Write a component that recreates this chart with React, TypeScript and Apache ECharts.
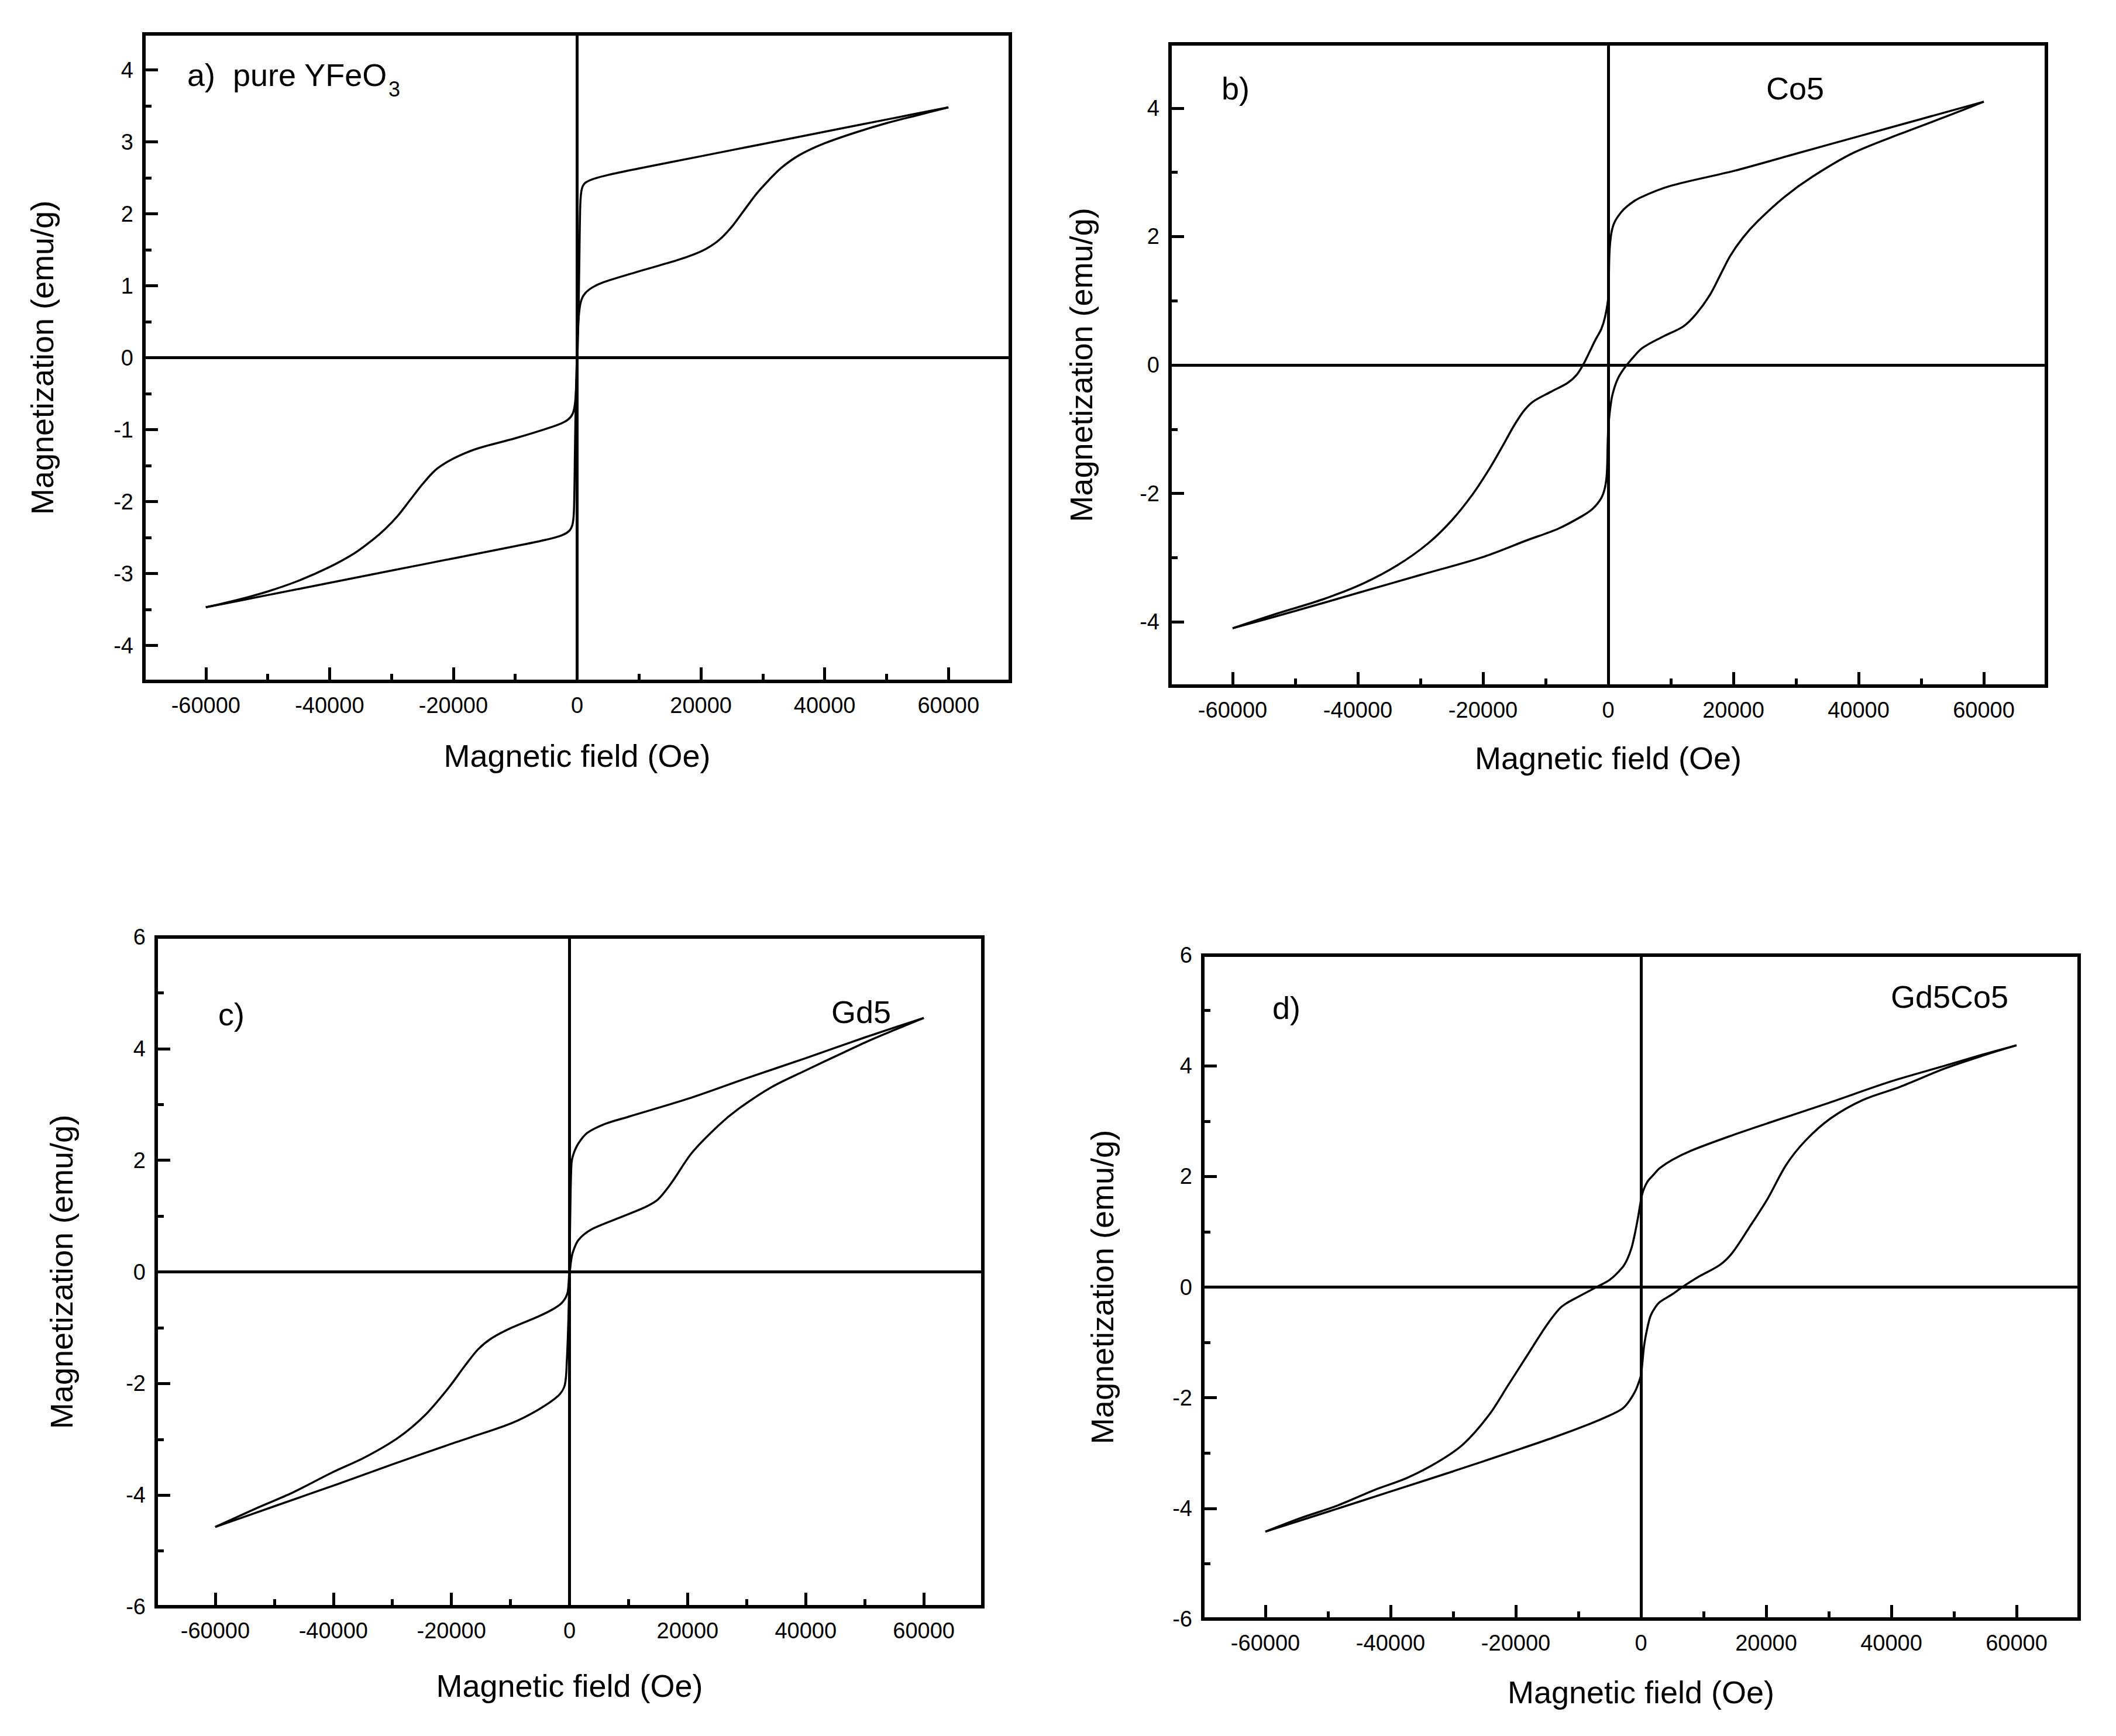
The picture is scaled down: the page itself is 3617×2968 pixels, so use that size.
import React, { useEffect, useRef } from "react";
import * as echarts from "echarts";

// ---------- data (H in Oe, M in emu/g) ----------
const aDown: number[][] = [[60000,3.48],[50000,3.31],[40000,3.14],[30000,2.97],[20000,2.80],[10000,2.63],[5000,2.54],[2500,2.48],[1200,2.42],[700,2.32],[500,2.1],[350,1.3],[200,0.5],[0,-0.1],[-200,-0.5],[-500,-0.72],[-1000,-0.82],[-2000,-0.89],[-4000,-0.96],[-10000,-1.12],[-16000,-1.26],[-19000,-1.36],[-21000,-1.45],[-23000,-1.57],[-25000,-1.76],[-27000,-1.98],[-29000,-2.2],[-31000,-2.38],[-33000,-2.53],[-36000,-2.72],[-40000,-2.91],[-45000,-3.1],[-50000,-3.25],[-55000,-3.37],[-60000,-3.47]];
const aUp: number[][] = [[-60000,-3.47],[-50000,-3.30],[-40000,-3.13],[-30000,-2.96],[-20000,-2.79],[-10000,-2.62],[-5000,-2.53],[-2500,-2.47],[-1200,-2.40],[-700,-2.3],[-500,-2.1],[-350,-1.3],[-200,-0.5],[0,0.1],[200,0.5],[500,0.74],[1000,0.86],[2000,0.95],[4000,1.04],[10000,1.2],[16000,1.35],[19000,1.44],[21000,1.52],[23000,1.64],[25000,1.82],[27000,2.05],[29000,2.28],[31000,2.47],[33000,2.64],[36000,2.82],[40000,2.98],[45000,3.13],[50000,3.26],[55000,3.37],[60000,3.48]];

const bDown: number[][] = [[60000,4.1],[50000,3.83],[40000,3.56],[30000,3.29],[20000,3.02],[10000,2.79],[5000,2.6],[3000,2.47],[2000,2.37],[1000,2.22],[500,2.05],[200,1.75],[0,1.05],[-500,0.75],[-1100,0.56],[-2000,0.4],[-3000,0.2],[-3800,0.04],[-5000,-0.15],[-6500,-0.28],[-9200,-0.42],[-12000,-0.57],[-13600,-0.73],[-15200,-0.97],[-16800,-1.25],[-19000,-1.62],[-21700,-2.02],[-25000,-2.42],[-28800,-2.78],[-33700,-3.12],[-39100,-3.4],[-45600,-3.65],[-53200,-3.88],[-60000,-4.1]];
const bUp: number[][] = [[-60000,-4.1],[-50000,-3.83],[-40000,-3.55],[-30000,-3.27],[-20000,-2.99],[-13000,-2.73],[-8000,-2.55],[-4300,-2.36],[-2500,-2.24],[-1100,-2.07],[-500,-1.9],[-200,-1.66],[0,-1.0],[500,-0.55],[1000,-0.35],[1600,-0.2],[2500,-0.06],[3300,0.04],[5400,0.26],[8700,0.44],[12000,0.6],[14100,0.8],[16300,1.1],[18000,1.42],[19500,1.7],[21500,1.98],[23900,2.24],[28200,2.62],[32600,2.93],[39100,3.3],[46700,3.6],[54300,3.88],[60000,4.1]];

const cDown: number[][] = [[60000,4.55],[50000,4.2],[40000,3.83],[30000,3.47],[20000,3.1],[10000,2.78],[6000,2.65],[3000,2.49],[1500,2.3],[700,2.12],[340,1.95],[150,1.2],[0,0.2],[-150,-0.2],[-400,-0.4],[-1350,-0.56],[-3000,-0.68],[-5300,-0.8],[-9800,-1.0],[-13200,-1.19],[-15500,-1.39],[-17700,-1.68],[-20500,-2.08],[-24500,-2.57],[-29000,-2.97],[-34600,-3.32],[-40300,-3.6],[-47000,-3.96],[-52700,-4.22],[-60000,-4.57]];
const cUp: number[][] = [[-60000,-4.57],[-50000,-4.2],[-39200,-3.8],[-30000,-3.45],[-20000,-3.08],[-16600,-2.96],[-9800,-2.71],[-5300,-2.47],[-1900,-2.22],[-800,-2.03],[-450,-1.59],[-200,-0.9],[0,-0.1],[200,0.15],[560,0.35],[1500,0.57],[3700,0.76],[8200,0.96],[12800,1.16],[15000,1.3],[17300,1.6],[20700,2.13],[25200,2.62],[28600,2.92],[34200,3.31],[39800,3.6],[46600,3.94],[51100,4.16],[60000,4.55]];

const dDown: number[][] = [[60000,4.37],[54500,4.2],[48500,4.0],[40000,3.72],[30000,3.33],[20200,2.96],[14000,2.72],[8100,2.47],[5000,2.3],[3000,2.15],[2000,2.03],[1000,1.9],[200,1.68],[-500,1.24],[-1000,0.95],[-1500,0.71],[-2200,0.5],[-3000,0.35],[-5000,0.13],[-7100,0.0],[-10100,-0.18],[-12000,-0.3],[-13100,-0.4],[-15200,-0.71],[-18200,-1.24],[-21200,-1.77],[-24200,-2.3],[-28300,-2.83],[-32300,-3.15],[-37400,-3.45],[-42400,-3.66],[-48500,-3.95],[-54500,-4.18],[-60000,-4.42]];
const dUp: number[][] = [[-60000,-4.42],[-50000,-4.06],[-40400,-3.71],[-30000,-3.33],[-20200,-2.96],[-14000,-2.72],[-8100,-2.47],[-5000,-2.32],[-3000,-2.2],[-2000,-2.08],[-1000,-1.9],[-500,-1.77],[0,-1.59],[500,-1.06],[1000,-0.75],[1500,-0.53],[2200,-0.38],[3000,-0.27],[5000,-0.13],[6600,0.0],[9100,0.18],[12600,0.4],[14600,0.62],[17200,1.06],[20200,1.59],[23200,2.21],[26300,2.65],[30300,3.05],[35400,3.38],[41400,3.62],[48500,3.95],[54500,4.18],[60000,4.37]];

// tick values
const xMajor = [-60000, -40000, -20000, 0, 20000, 40000, 60000];
const xMinor = [-50000, -30000, -10000, 10000, 30000, 50000];
const yMajorA = [-4, -3, -2, -1, 0, 1, 2, 3, 4];
const yMinorA = [-3.5, -2.5, -1.5, -0.5, 0.5, 1.5, 2.5, 3.5];
const yMajorB = [-4, -2, 0, 2, 4];
const yMinorB = [-3, -1, 1, 3];
const yMajorCD = [-6, -4, -2, 0, 2, 4, 6];
const yMinorCD = [-5, -3, -1, 1, 3, 5];

const xTitle = "Magnetic field (Oe)";
const yTitle = "Magnetization (emu/g)";

const FONT = "'Liberation Sans', Arial, Helvetica, sans-serif";

type Panel = {
  grid: { left: number; top: number; width: number; height: number };
  yMin: number; yMax: number; yMajor: number[]; yMinor: number[]; yInterval: number;
  down: number[][]; up: number[][];
  xNameGap: number; yNameGap: number;
};

const panels: Panel[] = [
  { grid: { left: 246, top: 58, width: 1481, height: 1107 }, yMin: -4.5, yMax: 4.5, yMajor: yMajorA, yMinor: yMinorA, yInterval: 0.5, down: aDown, up: aUp, xNameGap: 100, yNameGap: 147 },
  { grid: { left: 2000, top: 75, width: 1498, height: 1098 }, yMin: -5, yMax: 5, yMajor: yMajorB, yMinor: yMinorB, yInterval: 1, down: bDown, up: bUp, xNameGap: 96, yNameGap: 125 },
  { grid: { left: 267, top: 1602, width: 1413, height: 1145 }, yMin: -6, yMax: 6, yMajor: yMajorCD, yMinor: yMinorCD, yInterval: 1, down: cDown, up: cUp, xNameGap: 108, yNameGap: 135 },
  { grid: { left: 2056, top: 1633, width: 1498, height: 1135 }, yMin: -6, yMax: 6, yMajor: yMajorCD, yMinor: yMinorCD, yInterval: 1, down: dDown, up: dUp, xNameGap: 98, yNameGap: 145 },
];

function buildOption() {
  const grid: any[] = [];
  const xAxis: any[] = [];
  const yAxis: any[] = [];
  const series: any[] = [];
  const labelStyle = { fontSize: 38, color: "#000", fontFamily: FONT, formatter: (v: number) => String(v) };
  const nameStyle = { fontSize: 54, color: "#000", fontFamily: FONT };

  panels.forEach((p, i) => {
    grid.push({ ...p.grid, show: true, borderColor: "#000", borderWidth: 6, backgroundColor: "transparent", containLabel: false });
    xAxis.push({
      type: "value", gridIndex: i, position: "bottom", min: -70000, max: 70000, interval: 10000,
      axisLine: { show: true, onZero: false, lineStyle: { color: "#000", width: 6 } },
      axisTick: { show: true, inside: true, length: 24, lineStyle: { color: "#000", width: 5 }, customValues: xMajor },
      axisLabel: { show: true, margin: 22, customValues: xMajor, ...labelStyle },
      splitLine: { show: false },
      name: xTitle, nameLocation: "middle", nameGap: p.xNameGap, nameTextStyle: nameStyle,
    });
    xAxis.push({
      type: "value", gridIndex: i, position: "bottom", min: -70000, max: 70000, interval: 10000,
      axisLine: { show: false, onZero: false },
      axisTick: { show: true, inside: true, length: 13, lineStyle: { color: "#000", width: 5 }, customValues: xMinor },
      axisLabel: { show: false },
      splitLine: { show: false },
    });
    yAxis.push({
      type: "value", gridIndex: i, position: "left", min: p.yMin, max: p.yMax, interval: p.yInterval,
      axisLine: { show: true, onZero: false, lineStyle: { color: "#000", width: 6 } },
      axisTick: { show: true, inside: true, length: 24, lineStyle: { color: "#000", width: 5 }, customValues: p.yMajor },
      axisLabel: { show: true, margin: 18, customValues: p.yMajor, ...labelStyle },
      splitLine: { show: false },
      name: yTitle, nameLocation: "middle", nameGap: p.yNameGap, nameTextStyle: nameStyle,
    });
    yAxis.push({
      type: "value", gridIndex: i, position: "left", min: p.yMin, max: p.yMax, interval: p.yInterval,
      axisLine: { show: false, onZero: false },
      axisTick: { show: true, inside: true, length: 13, lineStyle: { color: "#000", width: 5 }, customValues: p.yMinor },
      axisLabel: { show: false },
      splitLine: { show: false },
    });
    const common = {
      type: "line", xAxisIndex: 2 * i, yAxisIndex: 2 * i, showSymbol: false, symbol: "none",
      smooth: 0.3,
      lineStyle: { color: "#000", width: 3.5 }, silent: true,
    };
    series.push({
      ...common, data: p.down,
      markLine: {
        silent: true, symbol: ["none", "none"], label: { show: false },
        lineStyle: { color: "#000", width: 5, type: "solid" },
        data: [{ xAxis: 0 }, { yAxis: 0 }],
      },
    });
    series.push({ ...common, data: p.up });
  });

  const txt = (text: string, x: number, y: number, size = 54) => ({
    type: "text", x, y, silent: true,
    style: { text, fontSize: size, fontFamily: FONT, fill: "#000", verticalAlign: "middle", align: "left" },
  });

  const graphic = [
    txt("a)  pure YFeO", 320, 128),
    txt("3", 664, 152, 36),
    txt("b)", 2088, 151),
    txt("Co5", 3019, 151),
    txt("c)", 373, 1734),
    txt("Gd5", 1421, 1730),
    txt("d)", 2175, 1723),
    txt("Gd5Co5", 3232, 1704),
  ];

  return {
    animation: false,
    backgroundColor: "#fff",
    grid, xAxis, yAxis, series, graphic,
  };
}

export default function App() {
  const ref = useRef<HTMLDivElement>(null);
  useEffect(() => {
    if (!ref.current) return;
    const chart = echarts.init(ref.current, undefined, { renderer: "svg" });
    chart.setOption(buildOption() as any);
    return () => chart.dispose();
  }, []);
  return (
    <div
      ref={ref}
      style={{ position: "fixed", left: 0, top: 0, width: 3617, height: 2968, background: "#fff" }}
    />
  );
}
